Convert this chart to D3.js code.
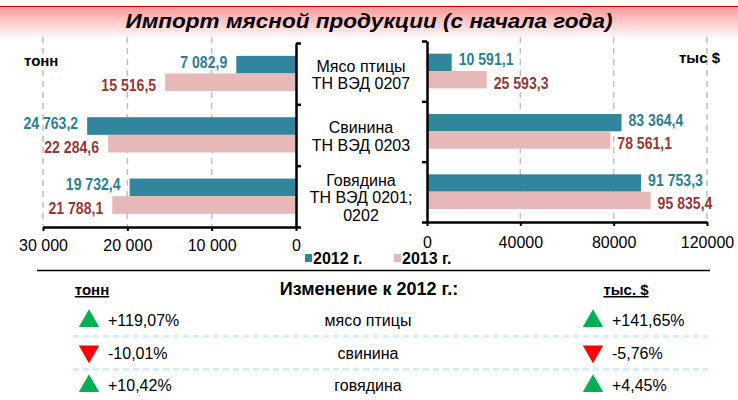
<!DOCTYPE html>
<html>
<head>
<meta charset="utf-8">
<script src="https://cdn.jsdelivr.net/npm/d3@7"></script>
<style>
  body { margin: 0; background: #fff; }
  svg { display: block; font-family: "Liberation Sans", Arial, sans-serif; }
</style>
</head>
<body>
<svg id="chart" width="738" height="400"></svg>
<script>
const categories = [["Мясо птицы", "ТН ВЭД 0207"], ["Свинина", "ТН ВЭД 0203"], ["Говядина", "ТН ВЭД 0201;", "0202"]];
const shortNames = ["мясо птицы", "свинина", "говядина"];
const years = ["2012 г.", "2013 г."];
const tons2012 = [7082.9, 24763.2, 19732.4];
const tons2013 = [15516.5, 22284.6, 21788.1];
const usd2012 = [10591.1, 83364.4, 91753.3];
const usd2013 = [25593.3, 78561.1, 95835.4];
const tonTicks = [0, 10000, 20000, 30000];
const usdTicks = [0, 40000, 80000, 120000];

const barColors = ["#31859c", "#e6b9b8"];
const labelColors = ["#2e7d91", "#953735"];

const ru = d3.formatLocale({ decimal: ",", thousands: " ", grouping: [3], currency: ["", ""], minus: "-" });
const fmtVal = ru.format(",.1f");
const fmtTick = ru.format(",");
const fmtPct = ru.format("+.2f");

const svg = d3.select("#chart");
const idx = d3.range(categories.length);

// title banner
const defs = svg.append("defs");
const grad = defs.append("linearGradient").attr("id", "ban").attr("x1", 0).attr("y1", 0).attr("x2", 0).attr("y2", 1);
grad.append("stop").attr("offset", "0%").attr("stop-color", "#ff9696");
grad.append("stop").attr("offset", "100%").attr("stop-color", "#ffffff");
svg.append("rect").attr("x", 0).attr("y", 6).attr("width", 738).attr("height", 33).attr("fill", "url(#ban)");
svg.append("line").attr("x1", 0).attr("x2", 738).attr("y1", 6.5).attr("y2", 6.5).attr("stroke", "#c00000").attr("stroke-width", 1.2);
svg.append("text").attr("x", 369).attr("y", 28).attr("text-anchor", "middle")
  .attr("font-size", 20).attr("font-weight", "bold").attr("font-style", "italic")
  .attr("textLength", 487).attr("lengthAdjust", "spacingAndGlyphs")
  .text("Импорт мясной продукции (с начала года)");

function drawSide(opts) {
  const { x, top, bottom, axisX, ticks, tickFmt, s2012, s2013, dir, labelPad } = opts;
  const y = d3.scaleBand().domain(idx).range([top, bottom]);
  const bw = y.bandwidth();
  const y1 = d3.scaleBand().domain([0, 1]).range([bw * 0.21, bw * 0.785]);
  const g = svg.append("g");

  // dashed grid
  g.selectAll(".grid").data(ticks.filter(t => t > 0)).join("line")
    .attr("x1", d => x(d)).attr("x2", d => x(d))
    .attr("y1", 37).attr("y2", bottom)
    .attr("stroke", "#bfbfbf").attr("stroke-width", 1.5).attr("stroke-dasharray", "6,5");

  const series = [s2012, s2013];
  series.forEach((s, k) => {
    g.selectAll(".b" + k).data(idx).join("rect")
      .attr("x", i => Math.min(x(0), x(s[i])))
      .attr("y", i => y(i) + y1(k))
      .attr("width", i => Math.abs(x(s[i]) - x(0)))
      .attr("height", y1.bandwidth())
      .attr("fill", barColors[k]);
    // narrow-looking bold labels
    g.selectAll(".l" + k).data(idx).join("text")
      .attr("transform", i => `translate(${x(s[i]) + dir * labelPad},${y(i) + y1(k) + y1.bandwidth() / 2 + 6 + (k === 0 ? -3 : 3)}) scale(0.88,1)`)
      .attr("text-anchor", dir < 0 ? "end" : "start")
      .attr("font-size", 16).attr("font-weight", "bold")
      .attr("fill", labelColors[k])
      .text(i => fmtVal(s[i]));
  });

  // x axis
  const xa = g.append("g").attr("transform", `translate(0,${bottom})`)
    .call(d3.axisBottom(x).tickValues(ticks).tickFormat(tickFmt).tickSize(4).tickSizeOuter(0).tickPadding(opts.tickPad));
  xa.select(".domain").attr("stroke-width", 2.5);
  xa.selectAll(".tick line").attr("stroke-width", 2);
  xa.selectAll("text").attr("font-size", 16).attr("font-family", null).attr("fill", "#000");

  // category axis (bracket)
  const b = d3.scaleLinear().domain([0, idx.length]).range([top, bottom]);
  const ya = g.append("g").attr("transform", `translate(${axisX},0)`)
    .call((dir < 0 ? d3.axisRight(b) : d3.axisLeft(b)).tickValues(d3.range(idx.length + 1)).tickFormat("").tickSize(5).tickSizeOuter(0));
  ya.select(".domain").attr("stroke-width", 2.5);
  ya.selectAll(".tick line").attr("stroke-width", 2.5);
  return y;
}

const xL = d3.scaleLinear().domain([0, 30000]).range([296, 43]);
const yL = drawSide({ x: xL, top: 43, bottom: 227, axisX: 296, ticks: tonTicks, tickFmt: fmtTick,
  s2012: tons2012, s2013: tons2013, dir: -1, labelPad: 9, tickPad: 9 });
const xR = d3.scaleLinear().domain([0, 120000]).range([427, 707]);
drawSide({ x: xR, top: 41, bottom: 222, axisX: 427, ticks: usdTicks, tickFmt: d3.format("d"),
  s2012: usd2012, s2013: usd2013, dir: 1, labelPad: 7, tickPad: 11 });

// unit labels
svg.append("text").attr("x", 24).attr("y", 66).attr("font-size", 15).attr("font-weight", "bold").text("тонн");
svg.append("text").attr("x", 720).attr("y", 63).attr("text-anchor", "end").attr("font-size", 15).attr("font-weight", "bold").text("тыс $");

// category names
const catG = svg.append("g");
categories.forEach((lines, i) => {
  const cy = yL(i) + yL.bandwidth() / 2 + 1;
  const lh = 17.5;
  const t = catG.append("text").attr("text-anchor", "middle").attr("font-size", 16);
  lines.forEach((ln, j) => {
    t.append("tspan").attr("x", 361)
      .attr("y", cy + (j - (lines.length - 1) / 2) * lh + 6)
      .text(ln);
  });
});

// legend
const leg = svg.append("g");
[305, 394].forEach((lx, k) => {
  leg.append("rect").attr("x", lx).attr("y", 254).attr("width", 7).attr("height", 8).attr("fill", barColors[k]);
  leg.append("text").attr("x", lx + 8).attr("y", 264).attr("font-size", 16).attr("font-weight", "bold").text(years[k]);
});

// change table
svg.append("line").attr("x1", 37).attr("x2", 710).attr("y1", 270.5).attr("y2", 270.5).attr("stroke", "#000").attr("stroke-width", 1.5);
svg.append("text").attr("x", 92).attr("y", 295).attr("text-anchor", "middle").attr("font-size", 15)
  .attr("font-weight", "bold").attr("text-decoration", "underline").text("тонн");
svg.append("text").attr("x", 626).attr("y", 295).attr("text-anchor", "middle").attr("font-size", 15)
  .attr("font-weight", "bold").attr("text-decoration", "underline").text("тыс. $");
svg.append("text").attr("x", 369).attr("y", 295).attr("text-anchor", "middle").attr("font-size", 18)
  .attr("font-weight", "bold").text("Изменение к 2012 г.:");

const rowY = d3.scalePoint().domain(idx).range([320, 385]);
const tbl = svg.append("g");
[336.5, 369.5].forEach(sy => {
  tbl.append("line").attr("x1", 73).attr("x2", 708).attr("y1", sy).attr("y2", sy)
    .attr("stroke", "#daedf3").attr("stroke-width", 3).attr("stroke-dasharray", "6,4");
});
const tri = d3.symbol().type(d3.symbolTriangle).size(180);
function changeCell(cx, ratio, cy) {
  const pct = (ratio - 1) * 100;
  const up = pct >= 0;
  tbl.append("path").attr("d", tri())
    .attr("transform", `translate(${cx + 10},${cy + (up ? 1 : -1)}) scale(1,${up ? 1 : -1})`)
    .attr("fill", up ? "#00b050" : "#ff0000");
  tbl.append("text").attr("x", cx + 29).attr("y", cy + 6).attr("font-size", 16)
    .text(fmtPct(pct) + "%");
}
idx.forEach(i => {
  const cy = rowY(i);
  changeCell(79, tons2013[i] / tons2012[i], cy);
  changeCell(583, usd2013[i] / usd2012[i], cy);
  tbl.append("text").attr("x", 368).attr("y", cy + 6).attr("text-anchor", "middle").attr("font-size", 16).text(shortNames[i]);
});
</script>
</body>
</html>
